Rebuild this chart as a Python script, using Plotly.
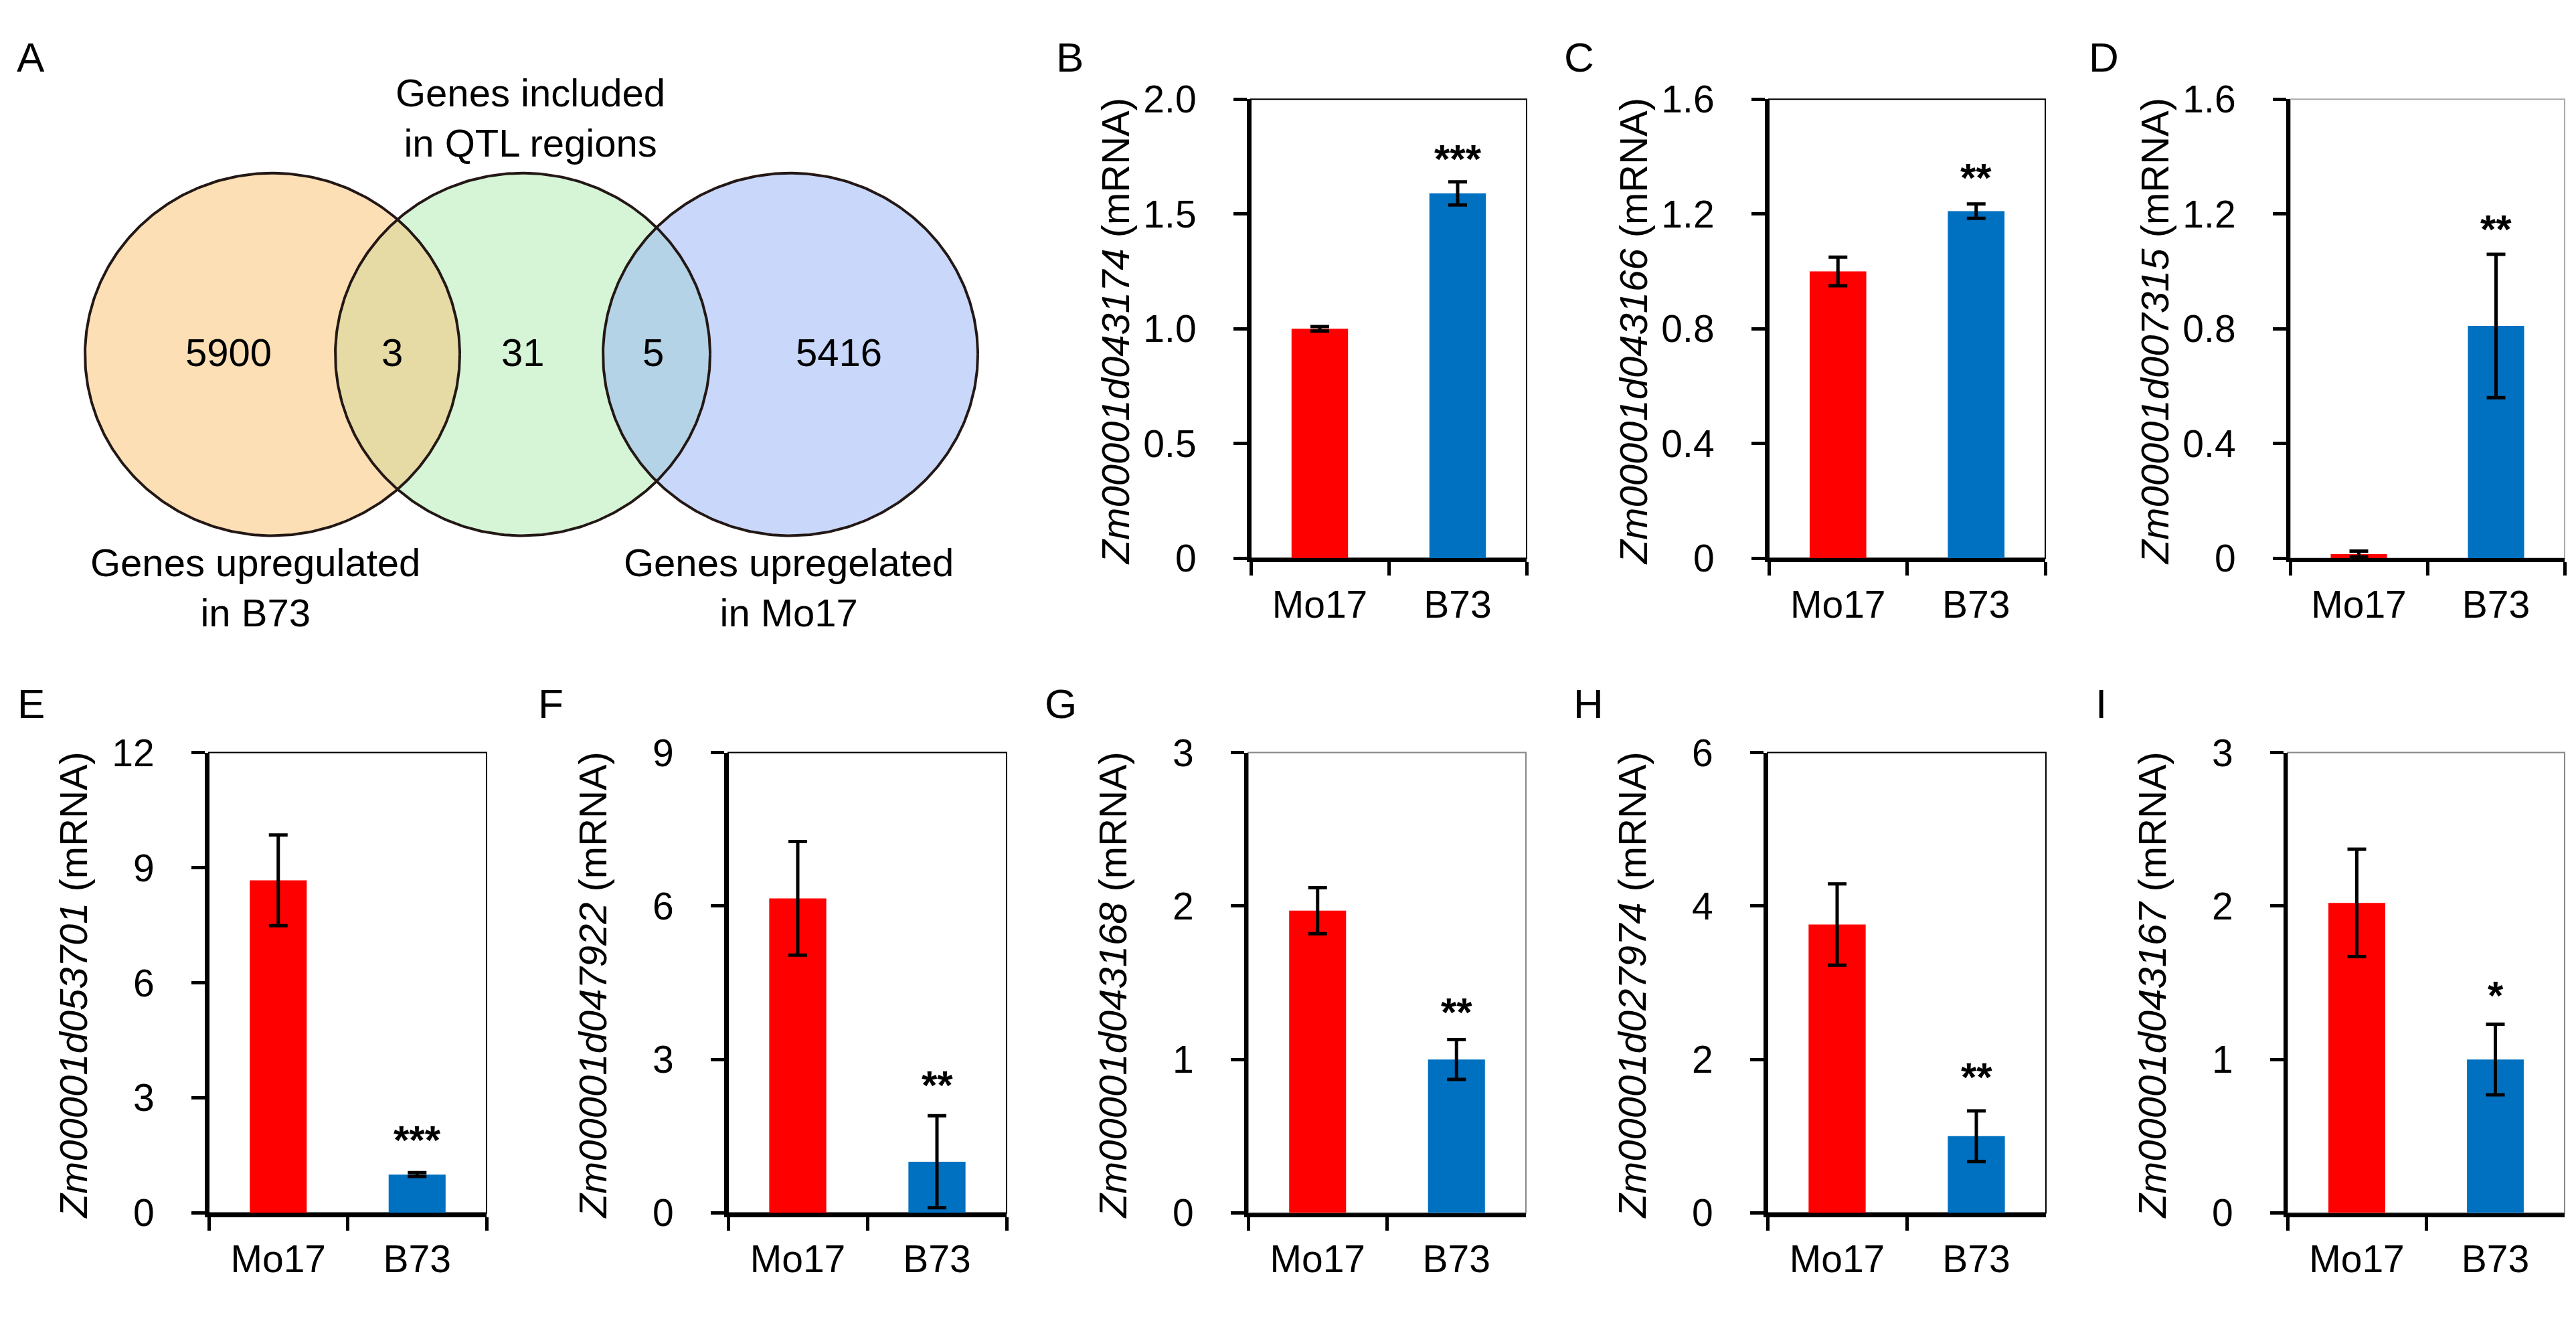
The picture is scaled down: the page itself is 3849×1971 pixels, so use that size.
import numpy as np
import plotly.graph_objects as go

W, H = 3849, 1971
FONT = "Liberation Sans, Arial, sans-serif"

# ---------------- data ----------------
venn_counts = ["5900", "3", "31", "5", "5416"]
venn_set_names = ["Genes upregulated<br>in B73",
                  "Genes included<br>in QTL regions",
                  "Genes upregelated<br>in Mo17"]

categories = ["Mo17", "B73"]
panel_letters = ["B", "C", "D", "E", "F", "G", "H", "I"]
gene_ids = ["Zm00001d043174", "Zm00001d043166", "Zm00001d007315", "Zm00001d053701",
            "Zm00001d047922", "Zm00001d043168", "Zm00001d027974", "Zm00001d043167"]
mo17_mean = [1.00, 1.00, 0.015, 8.67, 6.15, 1.97, 3.76, 2.02]
mo17_err = [0.01, 0.05, 0.01, 1.18, 1.11, 0.15, 0.53, 0.35]
b73_mean = [1.59, 1.21, 0.81, 1.00, 1.00, 1.00, 1.00, 1.00]
b73_err = [0.05, 0.025, 0.25, 0.05, 0.90, 0.13, 0.33, 0.23]
sig_marks = ["***", "**", "**", "***", "**", "**", "**", "*"]
sig_y = [1.78, 1.36, 1.18, 2.14, 2.68, 1.37, 1.89, 1.48]
y_max = [2.0, 1.6, 1.6, 12, 9, 3, 6, 3]
y_tickvals = [[0, 0.5, 1.0, 1.5, 2.0], [0, 0.4, 0.8, 1.2, 1.6], [0, 0.4, 0.8, 1.2, 1.6],
              [0, 3, 6, 9, 12], [0, 3, 6, 9], [0, 1, 2, 3], [0, 2, 4, 6], [0, 1, 2, 3]]
y_ticktext = [["0", "0.5", "1.0", "1.5", "2.0"], ["0", "0.4", "0.8", "1.2", "1.6"],
              ["0", "0.4", "0.8", "1.2", "1.6"], ["0", "3", "6", "9", "12"],
              ["0", "3", "6", "9"], ["0", "1", "2", "3"], ["0", "2", "4", "6"], ["0", "1", "2", "3"]]

# ---------------- layout geometry (pixels) ----------------
boxes = [(1861, 112, 2273, 821), (2635, 112, 3048, 821), (3414, 112, 3824, 821),
         (304, 1121, 719, 1832), (1080, 1121, 1496, 1832), (1857, 1121, 2272, 1832),
         (2633, 1121, 3049, 1832), (3410, 1121, 3824, 1832)]
letter_pos = [(1590, 47), (2351, 47), (3135, 47), (38, 1045), (815, 1045),
              (1577, 1045), (2365, 1045), (3131, 1045)]
frame_colors = ["black", "black", "#AAAAAA", "black", "black", "#888888", "black", "#888888"]

RED = "#FF0000"
BLUE = "#0070C0"

fig = go.Figure()
layout = dict(width=W, height=H, margin=dict(l=0, r=0, t=0, b=0),
              paper_bgcolor="white", plot_bgcolor="white", showlegend=False,
              font=dict(family=FONT, color="black"))
annotations = []
shapes = []

# ---------------- Venn (panel A) ----------------
VW, VH = 1560, 985
layout["xaxis"] = dict(domain=[0, VW / W], range=[0, VW], visible=False, fixedrange=True)
layout["yaxis"] = dict(domain=[1 - VH / H, 1], range=[VH, 0], visible=False, fixedrange=True)
centers = [399, 773, 1173]
cy, r = 506, 280
fills = ["#FCDFB5", "#D6F4D6", "#C9D7FA"]
lens_fills = ["#E6DBA4", "#B4D3E6"]
t = np.linspace(0, 2 * np.pi, 400)
for cx, fc in zip(centers, fills):
    fig.add_trace(go.Scatter(x=cx + r * np.cos(t), y=cy + r * np.sin(t), mode="lines",
                             fill="toself", fillcolor=fc, line=dict(width=0, color=fc),
                             hoverinfo="skip", xaxis="x", yaxis="y"))
for i, fc in enumerate(lens_fills):
    c1, c2 = centers[i], centers[i + 1]
    d = c2 - c1
    a = np.arccos((d / 2) / r)
    th1 = np.linspace(-a, a, 200)
    th2 = np.linspace(np.pi - a, np.pi + a, 200)
    xs = np.concatenate([c1 + r * np.cos(th1), c2 + r * np.cos(th2)])
    ys = np.concatenate([cy + r * np.sin(th1), cy + r * np.sin(th2)])
    fig.add_trace(go.Scatter(x=xs, y=ys, mode="lines", fill="toself", fillcolor=fc,
                             line=dict(width=0, color=fc), hoverinfo="skip",
                             xaxis="x", yaxis="y"))
for cx in centers:
    fig.add_trace(go.Scatter(x=cx + r * np.cos(t), y=cy + r * np.sin(t), mode="lines",
                             line=dict(width=4, color="#231815"), hoverinfo="skip",
                             xaxis="x", yaxis="y"))
count_x = [333, 578, 773, 968, 1245]
for txt, x in zip(venn_counts, count_x):
    annotations.append(dict(x=x, y=503, xref="x", yref="y", text=txt, showarrow=False,
                            font=dict(size=58, family=FONT, color="black"),
                            xanchor="center", yanchor="middle"))
set_pos = [(373, 866), (784, 141), (1170, 866)]
for txt, (x, y) in zip(venn_set_names, set_pos):
    annotations.append(dict(x=x, y=y, xref="x", yref="y", text=txt, showarrow=False,
                            font=dict(size=58, family=FONT, color="black"),
                            xanchor="center", yanchor="middle", align="center"))
annotations.append(dict(x=38 / W, y=1 - 47 / H, xref="paper", yref="paper", text="A",
                        showarrow=False, font=dict(size=62, family=FONT, color="black"),
                        xanchor="center", yanchor="middle"))

# ---------------- bar panels ----------------
for k in range(8):
    n = k + 2
    xa, ya = f"xaxis{n}", f"yaxis{n}"
    xr, yr = f"x{n}", f"y{n}"
    L, T, R, B = boxes[k]
    layout[xa] = dict(domain=[L / W, R / W], anchor=yr, type="category",
                      range=[-0.5, 1.5], showline=True, linewidth=6, linecolor="black",
                      ticks="outside", tickson="boundaries", ticklen=20, tickwidth=5,
                      tickcolor="black", showgrid=False, zeroline=False,
                      tickfont=dict(size=57, family=FONT, color="black"),
                      ticklabelstandoff=14, fixedrange=True)
    layout[ya] = dict(domain=[1 - B / H, 1 - T / H], anchor=xr, range=[0, y_max[k]],
                      showline=True, linewidth=6, linecolor="black", ticks="outside",
                      ticklen=20, tickwidth=5, tickcolor="black", showgrid=False,
                      zeroline=False, tickvals=y_tickvals[k], ticktext=y_ticktext[k],
                      tickfont=dict(size=57, family=FONT, color="black"),
                      ticklabelstandoff=44, fixedrange=True)
    fig.add_trace(go.Bar(x=categories, y=[mo17_mean[k], b73_mean[k]],
                         marker=dict(color=[RED, BLUE], line=dict(width=0)), width=0.41,
                         error_y=dict(type="data", array=[mo17_err[k], b73_err[k]],
                                      color="black", thickness=5, width=14),
                         xaxis=xr, yaxis=yr, hoverinfo="skip"))
    shapes.append(dict(type="rect", xref=f"{xr} domain", yref=f"{yr} domain",
                       x0=0, x1=1, y0=0, y1=1, line=dict(color=frame_colors[k], width=2),
                       layer="below"))
    annotations.append(dict(x=categories[1], y=sig_y[k], xref=xr, yref=yr,
                            text=f"<b>{sig_marks[k]}</b>", showarrow=False,
                            font=dict(size=60, family=FONT, color="black"),
                            xanchor="center", yanchor="middle", yshift=-14))
    annotations.append(dict(x=(L - 203) / W, y=1 - ((T + B) / 2 + 4) / H, xref="paper",
                            yref="paper", text=f"<i>{gene_ids[k]}</i> (mRNA)",
                            textangle=-90, showarrow=False,
                            font=dict(size=58, family=FONT, color="black"),
                            xanchor="center", yanchor="middle"))
    lx, ly = letter_pos[k]
    annotations.append(dict(x=lx / W, y=1 - ly / H, xref="paper", yref="paper",
                            text=panel_letters[k], showarrow=False,
                            font=dict(size=62, family=FONT, color="black"),
                            xanchor="center", yanchor="middle"))

layout["annotations"] = annotations
layout["shapes"] = shapes
fig.update_layout(**layout)
fig.write_html("out.html")
